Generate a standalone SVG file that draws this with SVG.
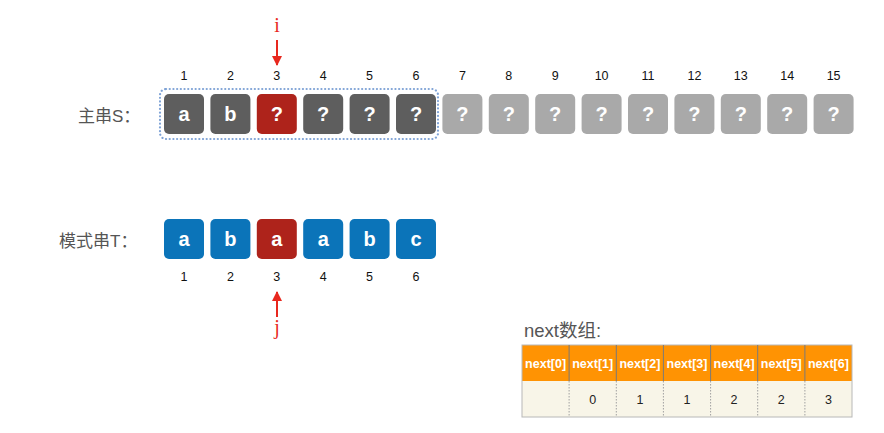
<svg xmlns="http://www.w3.org/2000/svg" width="884" height="433" viewBox="0 0 884 433">
<defs>
<marker id="ah" viewBox="0 0 10 10" refX="9" refY="5" markerWidth="10" markerHeight="10" markerUnits="userSpaceOnUse" orient="auto"><path d="M0,0 L10,5 L0,10 z" fill="#E8281E"/></marker>
<style>
.bx{stroke:none}
.dk{fill:#5E5E5E}.rd{fill:#AE231B}.lt{fill:#A9A9A9}.bl{fill:#0B74B9}
.ch{font-family:"Liberation Sans",Arial,sans-serif;font-weight:bold;font-size:20px;fill:#fff;text-anchor:middle}
.num{font-family:"Liberation Sans",Arial,sans-serif;font-size:12.5px;fill:#111;text-anchor:middle}
.lbl{font-family:"Liberation Sans","Noto Sans CJK SC",sans-serif;font-size:17px;fill:#555}
.ttl{font-family:"Liberation Sans","Noto Sans CJK SC",sans-serif;font-size:18.5px;fill:#555}
.var{font-family:"Liberation Serif",serif;font-size:20px;fill:#E8281E;text-anchor:middle}
.hd{font-family:"Liberation Sans",Arial,sans-serif;font-weight:bold;font-size:12.5px;fill:#fff;text-anchor:middle}
.cv{font-family:"Liberation Sans",Arial,sans-serif;font-size:12.5px;fill:#222;text-anchor:middle}
.conn{stroke:#E8281E;stroke-width:2;fill:none}
</style>
</defs>
<rect width="884" height="433" fill="#fff"/>

<g id="labelS"><text class="lbl" x="78" y="122">主串S：</text></g>
<g id="labelT"><text class="lbl" x="59" y="247">模式串T：</text></g>

<g id="window"><rect x="160" y="89" width="278" height="50" rx="6" fill="none" stroke="#7FA3D6" stroke-width="2.2" stroke-dasharray="0.1,3.6" stroke-linecap="round"/></g>

<g id="S">
<g id="s1"><text class="num" x="184" y="80">1</text><rect class="bx dk" x="164" y="94" width="40" height="40" rx="5"/><text class="ch" x="184" y="121">a</text></g>
<g id="s2"><text class="num" x="230.4" y="80">2</text><rect class="bx dk" x="210.4" y="94" width="40" height="40" rx="5"/><text class="ch" x="230.4" y="121">b</text></g>
<g id="s3"><text class="num" x="276.8" y="80">3</text><rect class="bx rd" x="256.8" y="94" width="40" height="40" rx="5"/><text class="ch" x="276.8" y="121">?</text></g>
<g id="s4"><text class="num" x="323.2" y="80">4</text><rect class="bx dk" x="303.2" y="94" width="40" height="40" rx="5"/><text class="ch" x="323.2" y="121">?</text></g>
<g id="s5"><text class="num" x="369.6" y="80">5</text><rect class="bx dk" x="349.6" y="94" width="40" height="40" rx="5"/><text class="ch" x="369.6" y="121">?</text></g>
<g id="s6"><text class="num" x="416" y="80">6</text><rect class="bx dk" x="396" y="94" width="40" height="40" rx="5"/><text class="ch" x="416" y="121">?</text></g>
<g id="s7"><text class="num" x="462.4" y="80">7</text><rect class="bx lt" x="442.4" y="94" width="40" height="40" rx="5"/><text class="ch" x="462.4" y="121">?</text></g>
<g id="s8"><text class="num" x="508.8" y="80">8</text><rect class="bx lt" x="488.8" y="94" width="40" height="40" rx="5"/><text class="ch" x="508.8" y="121">?</text></g>
<g id="s9"><text class="num" x="555.2" y="80">9</text><rect class="bx lt" x="535.2" y="94" width="40" height="40" rx="5"/><text class="ch" x="555.2" y="121">?</text></g>
<g id="s10"><text class="num" x="601.6" y="80">10</text><rect class="bx lt" x="581.6" y="94" width="40" height="40" rx="5"/><text class="ch" x="601.6" y="121">?</text></g>
<g id="s11"><text class="num" x="648" y="80">11</text><rect class="bx lt" x="628" y="94" width="40" height="40" rx="5"/><text class="ch" x="648" y="121">?</text></g>
<g id="s12"><text class="num" x="694.4" y="80">12</text><rect class="bx lt" x="674.4" y="94" width="40" height="40" rx="5"/><text class="ch" x="694.4" y="121">?</text></g>
<g id="s13"><text class="num" x="740.8" y="80">13</text><rect class="bx lt" x="720.8" y="94" width="40" height="40" rx="5"/><text class="ch" x="740.8" y="121">?</text></g>
<g id="s14"><text class="num" x="787.2" y="80">14</text><rect class="bx lt" x="767.2" y="94" width="40" height="40" rx="5"/><text class="ch" x="787.2" y="121">?</text></g>
<g id="s15"><text class="num" x="833.6" y="80">15</text><rect class="bx lt" x="813.6" y="94" width="40" height="40" rx="5"/><text class="ch" x="833.6" y="121">?</text></g>
</g>

<g id="T">
<g id="t1"><rect class="bx bl" x="164" y="219" width="40" height="40" rx="5"/><text class="ch" x="184" y="246">a</text><text class="num" x="184" y="281">1</text></g>
<g id="t2"><rect class="bx bl" x="210.4" y="219" width="40" height="40" rx="5"/><text class="ch" x="230.4" y="246">b</text><text class="num" x="230.4" y="281">2</text></g>
<g id="t3"><rect class="bx rd" x="256.8" y="219" width="40" height="40" rx="5"/><text class="ch" x="276.8" y="246">a</text><text class="num" x="276.8" y="281">3</text></g>
<g id="t4"><rect class="bx bl" x="303.2" y="219" width="40" height="40" rx="5"/><text class="ch" x="323.2" y="246">a</text><text class="num" x="323.2" y="281">4</text></g>
<g id="t5"><rect class="bx bl" x="349.6" y="219" width="40" height="40" rx="5"/><text class="ch" x="369.6" y="246">b</text><text class="num" x="369.6" y="281">5</text></g>
<g id="t6"><rect class="bx bl" x="396" y="219" width="40" height="40" rx="5"/><text class="ch" x="416" y="246">c</text><text class="num" x="416" y="281">6</text></g>
</g>

<g id="ptr-i"><text class="var" x="277" y="32">i</text></g>
<g id="ptr-j"><text class="var" x="277" y="334">j</text></g>

<g id="connectors">
<line class="conn" x1="277" y1="40" x2="277" y2="65" marker-end="url(#ah)"/>
<line class="conn" x1="277" y1="317" x2="277" y2="292" marker-end="url(#ah)"/>
</g>

<g id="next-table">
<text class="ttl" x="524" y="337">next数组:</text>
<rect x="522" y="345" width="330" height="36" fill="#FF9303"/>
<rect x="522" y="381" width="330" height="36" fill="#F8F5E8"/>
<rect x="522" y="345" width="330" height="72" fill="none" stroke="#B8B8B8" stroke-width="1"/>
<g stroke="#7A7A7A" stroke-width="1">
<line x1="569.1" y1="345" x2="569.1" y2="381"/><line x1="616.3" y1="345" x2="616.3" y2="381"/><line x1="663.4" y1="345" x2="663.4" y2="381"/><line x1="710.6" y1="345" x2="710.6" y2="381"/><line x1="757.7" y1="345" x2="757.7" y2="381"/><line x1="804.9" y1="345" x2="804.9" y2="381"/>
</g>
<g stroke="#A0A0A0" stroke-width="1" stroke-dasharray="1.5,1.5">
<line x1="569.1" y1="381" x2="569.1" y2="417"/><line x1="616.3" y1="381" x2="616.3" y2="417"/><line x1="663.4" y1="381" x2="663.4" y2="417"/><line x1="710.6" y1="381" x2="710.6" y2="417"/><line x1="757.7" y1="381" x2="757.7" y2="417"/><line x1="804.9" y1="381" x2="804.9" y2="417"/>
</g>
<text class="hd" x="545.6" y="368">next[0]</text><text class="hd" x="592.7" y="368">next[1]</text><text class="hd" x="639.9" y="368">next[2]</text><text class="hd" x="687" y="368">next[3]</text><text class="hd" x="734.1" y="368">next[4]</text><text class="hd" x="781.3" y="368">next[5]</text><text class="hd" x="828.4" y="368">next[6]</text>
<text class="cv" x="592.7" y="404">0</text><text class="cv" x="639.9" y="404">1</text><text class="cv" x="687" y="404">1</text><text class="cv" x="734.1" y="404">2</text><text class="cv" x="781.3" y="404">2</text><text class="cv" x="828.4" y="404">3</text>
</g>
</svg>
